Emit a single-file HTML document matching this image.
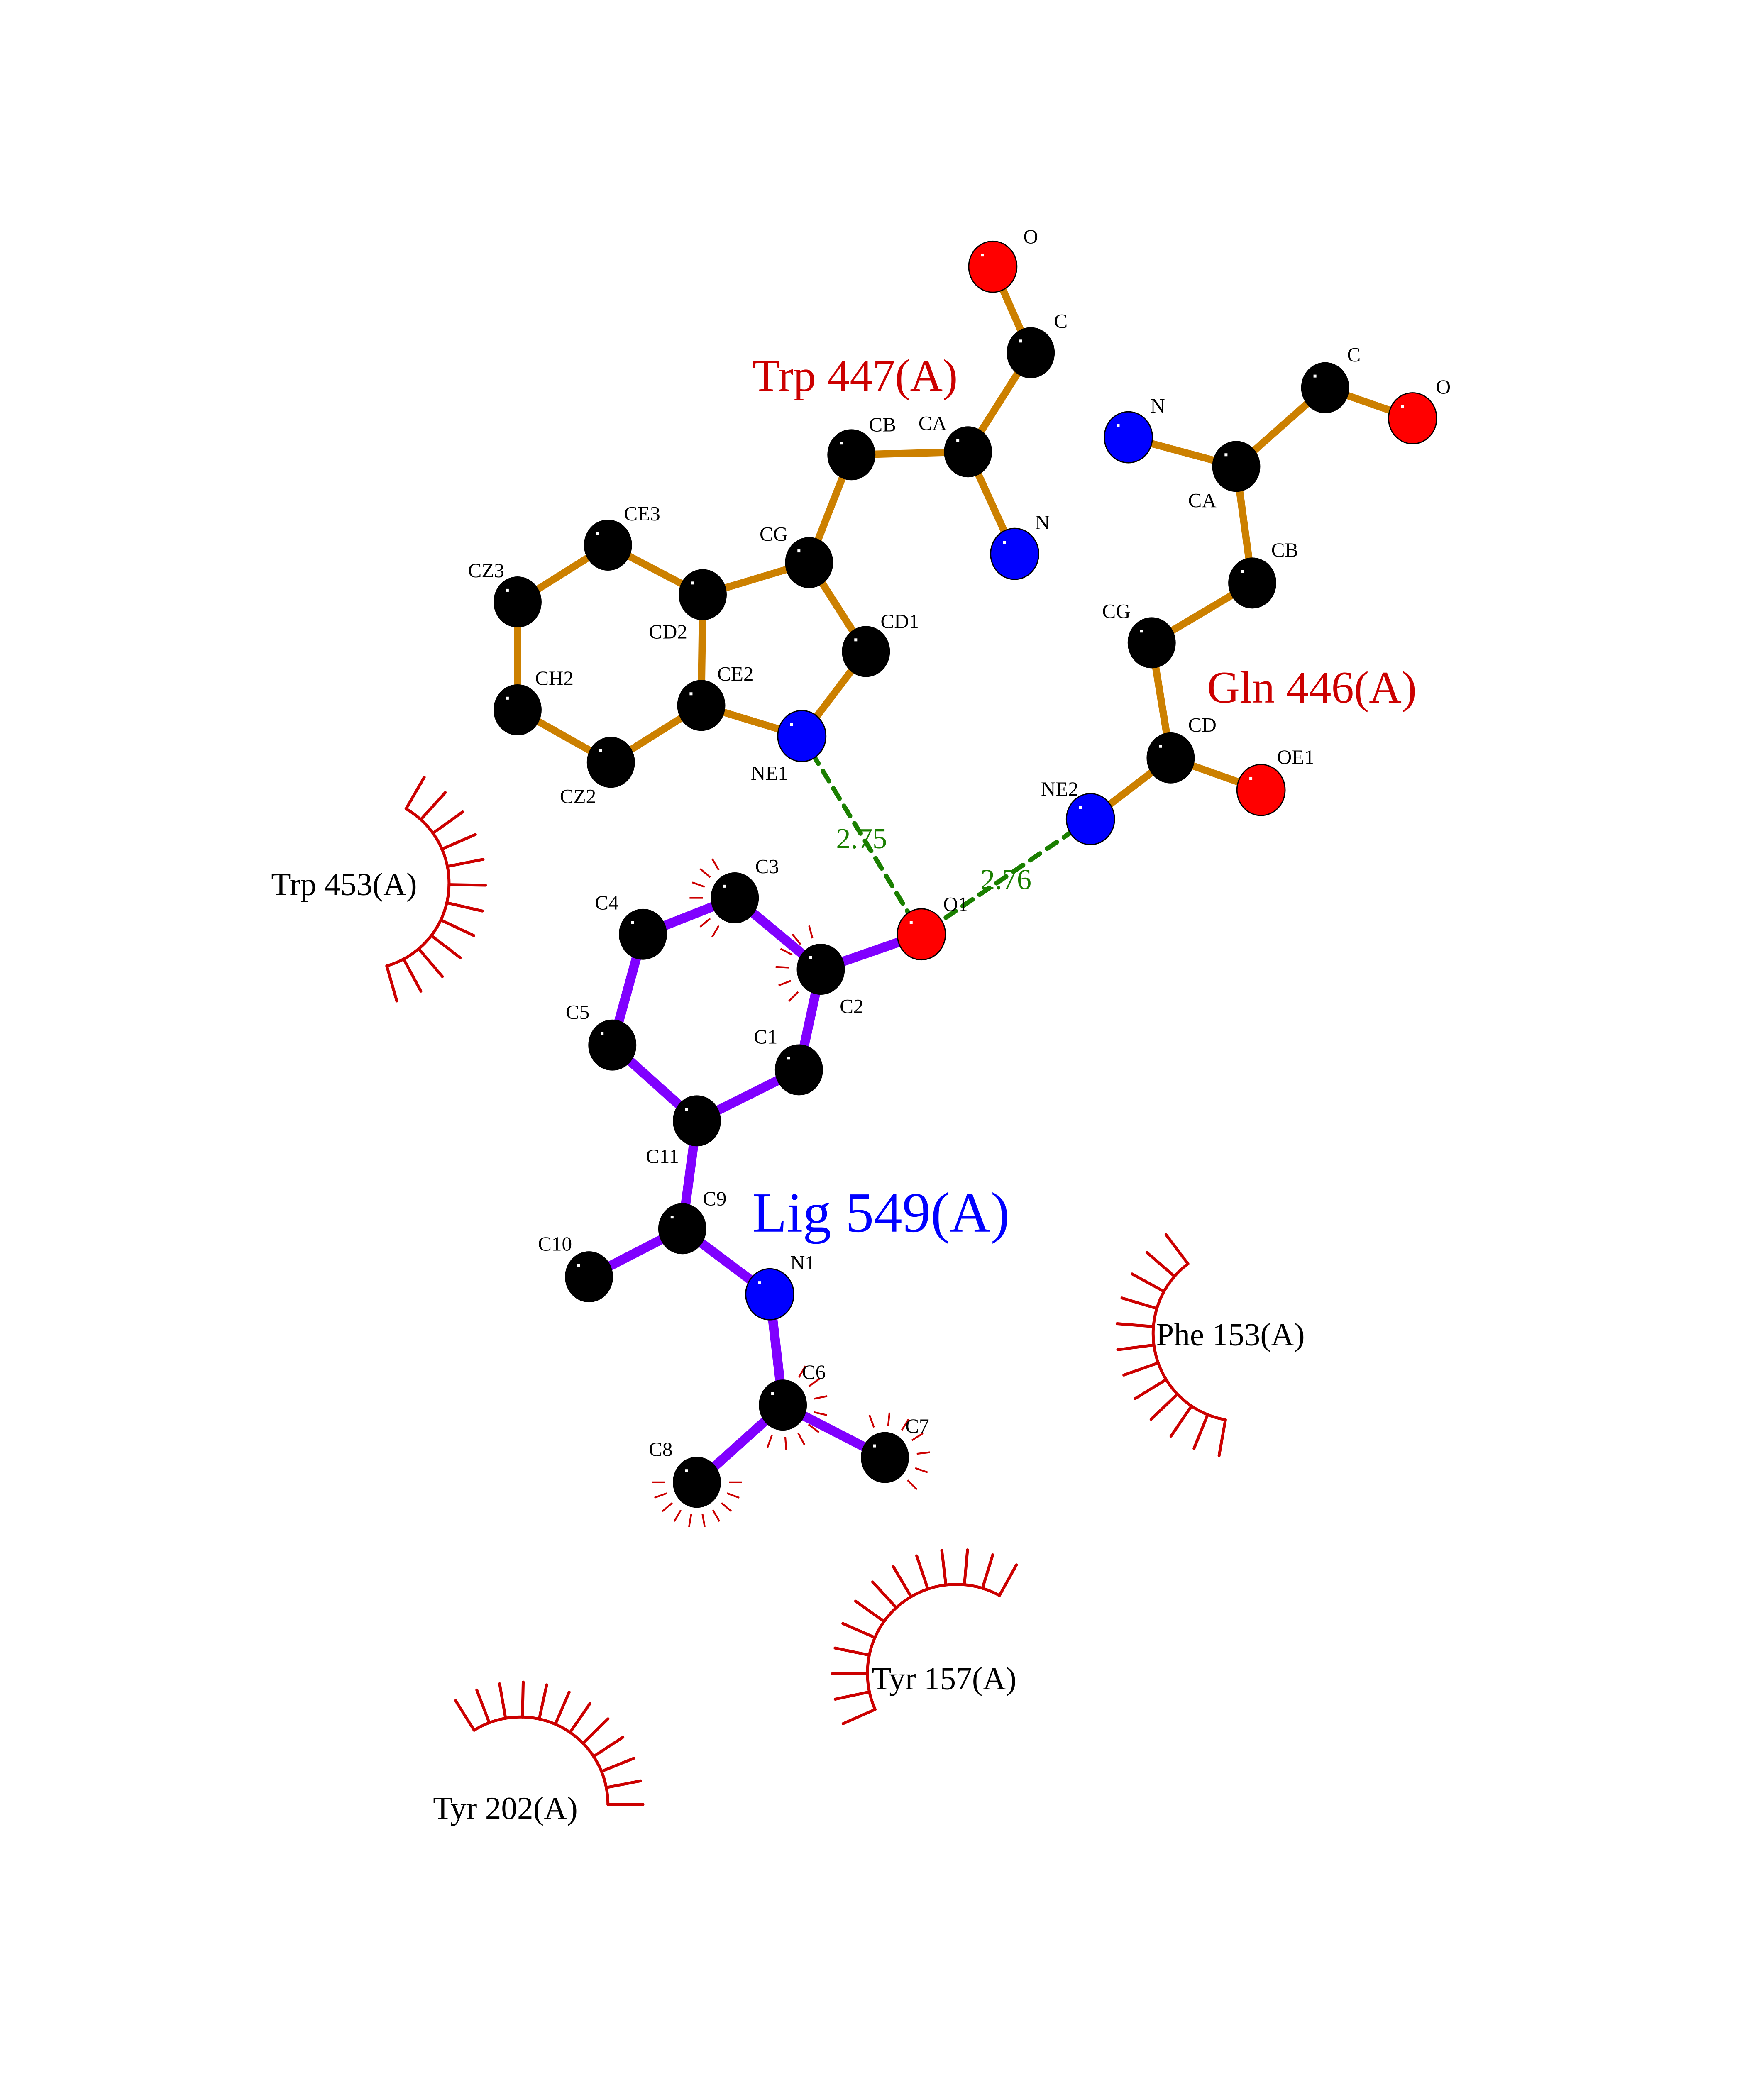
<!DOCTYPE html>
<html><head><meta charset="utf-8"><style>html,body{margin:0;padding:0;background:#fff;width:4250px;height:5500px;overflow:hidden}svg{display:block}</style></head>
<body>
<svg id="s" xmlns="http://www.w3.org/2000/svg" width="4250" height="5500" viewBox="0 0 1210 1566" font-family="Liberation Serif, serif">
<rect width="1210" height="1566" fill="#fff"/>
<g id="spk" stroke="#cc0000" stroke-width="2" stroke-linecap="round" fill="none"></g>
<g id="small" stroke="#cc0000" stroke-width="1.2" fill="none"></g>
<g stroke="#1a7f00" stroke-width="3.2" stroke-dasharray="8,6" stroke-linecap="round">
<line x1="550" y1="505" x2="632" y2="641"/>
<line x1="748" y1="562" x2="632" y2="641"/>
</g>
<g id="bonds" stroke-linecap="butt"></g>
<g id="atoms"></g>
<g id="labels" font-size="14" fill="#000"></g>
<text x="516" y="268" font-size="31" fill="#cc0000">Trp 447(A)</text>
<text x="828" y="482" font-size="31" fill="#cc0000">Gln 446(A)</text>
<text x="516" y="845" font-size="39" fill="#0000ff">Lig 549(A)</text>
<text x="591" y="582" font-size="20" fill="#1a7f00" text-anchor="middle">2.75</text>
<text x="690" y="610" font-size="20" fill="#1a7f00" text-anchor="middle">2.76</text>
<text x="186" y="614" font-size="22">Trp 453(A)</text>
<text x="793" y="923" font-size="22">Phe 153(A)</text>
<text x="598" y="1159" font-size="22">Tyr 157(A)</text>
<text x="297" y="1248" font-size="22">Tyr 202(A)</text>
<text x="58" y="1470" font-size="14">.</text>
</svg>
<script>
var NS="http://www.w3.org/2000/svg";
function el(p,t,a){var e=document.createElementNS(NS,t);for(var k in a)e.setAttribute(k,a[k]);p.appendChild(e);return e;}
var A={
tO:[681,183,'r'],tC:[707,242,'k'],tCA:[664,310,'k'],tCB:[584,312,'k'],tN:[696,380,'b'],tCG:[555,386,'k'],tCD1:[594,447,'k'],tNE1:[550,505,'b'],tCE2:[481,484,'k'],tCD2:[482,408,'k'],tCE3:[417,374,'k'],tCZ3:[355,413,'k'],tCH2:[355,487,'k'],tCZ2:[419,523,'k'],
gC:[909,266,'k'],gO:[969,287,'r'],gN:[774,300,'b'],gCA:[848,320,'k'],gCB:[859,400,'k'],gCG:[790,441,'k'],gCD:[803,520,'k'],gOE1:[865,542,'r'],gNE2:[748,562,'b'],
O1:[632,641,'r'],C2:[563,665,'k'],C3:[504,616,'k'],C4:[441,641,'k'],C5:[420,717,'k'],C1:[548,734,'k'],C11:[478,769,'k'],C9:[468,843,'k'],C10:[404,876,'k'],N1:[528,888,'b'],C6:[537,964,'k'],C7:[607,1000,'k'],C8:[478,1017,'k']};
var Bo=[['tO','tC'],['tC','tCA'],['tCA','tCB'],['tCA','tN'],['tCB','tCG'],['tCG','tCD1'],['tCD1','tNE1'],['tNE1','tCE2'],['tCE2','tCD2'],['tCD2','tCG'],['tCD2','tCE3'],['tCE3','tCZ3'],['tCZ3','tCH2'],['tCH2','tCZ2'],['tCZ2','tCE2'],
['gC','gO'],['gC','gCA'],['gN','gCA'],['gCA','gCB'],['gCB','gCG'],['gCG','gCD'],['gCD','gOE1'],['gCD','gNE2']];
var Bl=[['O1','C2'],['C2','C3'],['C3','C4'],['C4','C5'],['C5','C11'],['C11','C1'],['C1','C2'],['C11','C9'],['C9','C10'],['C9','N1'],['N1','C6'],['C6','C7'],['C6','C8']];
var bg=document.getElementById('bonds');
Bo.forEach(function(b){var p=A[b[0]],q=A[b[1]];el(bg,'line',{x1:p[0],y1:p[1],x2:q[0],y2:q[1],stroke:'#cc8000','stroke-width':5});});
Bl.forEach(function(b){var p=A[b[0]],q=A[b[1]];el(bg,'line',{x1:p[0],y1:p[1],x2:q[0],y2:q[1],stroke:'#8000ff','stroke-width':6.5});});
var ag=document.getElementById('atoms');var col={k:'#000',r:'#ff0000',b:'#0000ff'};
for(var k in A){var a=A[k];el(ag,'ellipse',{cx:a[0],cy:a[1],rx:16.5,ry:17.5,fill:col[a[2]],stroke:'#000','stroke-width':a[2]=='k'?0:0.8});
el(ag,'rect',{x:a[0]-8,y:a[1]-9,width:2,height:2,fill:'#fff'});}
var L=[['O',702,167],['C',723,225],['CA',630,295],['CB',596,296],['N',710,363],['CG',521,371],['CD1',604,431],['NE1',515,535],['CE2',492,467],['CD2',445,438],['CE3',428,357],['CZ3',321,396],['CH2',367,470],['CZ2',384,551],
['C',924,248],['O',985,270],['N',789,283],['CA',815,348],['CB',872,382],['CG',756,424],['CD',815,502],['OE1',876,524],['NE2',714,546],
['O1',647,625],['C2',576,695],['C3',518,599],['C4',408,624],['C5',388,699],['C1',517,716],['C11',443,798],['C9',482,827],['C10',369,858],['N1',542,871],['C6',550,946],['C7',621,983],['C8',445,999]];
var lg=document.getElementById('labels');L.forEach(function(l){el(lg,'text',{x:l[1],y:l[2]}).textContent=l[0];});
var sg=document.getElementById('spk');
function arc(cx,cy,r,a0,a1,n,len){var d2r=Math.PI/180;var x0=cx+r*Math.cos(a0*d2r),y0=cy+r*Math.sin(a0*d2r),x1=cx+r*Math.cos(a1*d2r),y1=cy+r*Math.sin(a1*d2r);
var sw=a1>a0?1:0;var large=Math.abs(a1-a0)>180?1:0;
el(sg,'path',{d:'M'+x0+' '+y0+' A'+r+' '+r+' 0 '+large+' '+sw+' '+x1+' '+y1});
for(var i=0;i<n;i++){var t=(a0+(a1-a0)*i/(n-1))*d2r;el(sg,'line',{x1:cx+r*Math.cos(t),y1:cy+r*Math.sin(t),x2:cx+(r+len)*Math.cos(t),y2:cy+(r+len)*Math.sin(t)});}}
arc(249,606,59,-60,74,12,25);
arc(851,915,60,100,233,12,25);
arc(656,1148,61,156,299,13,24);
arc(357,1238,60,238,360,12,24);
var mg=document.getElementById('small');
function sm(k,a0,a1,n){var a=A[k],d2r=Math.PI/180;for(var i=0;i<n;i++){var t=(a0+(a1-a0)*i/(n-1))*d2r;el(mg,'line',{x1:a[0]+22*Math.cos(t),y1:a[1]+22*Math.sin(t),x2:a[0]+31*Math.cos(t),y2:a[1]+31*Math.sin(t)});}}
sm('C3',120,240,7);sm('C2',135,255,6);sm('C6',-60,110,8);sm('C7',-110,45,7);sm('C8',0,180,10);
</script>
</body></html>
